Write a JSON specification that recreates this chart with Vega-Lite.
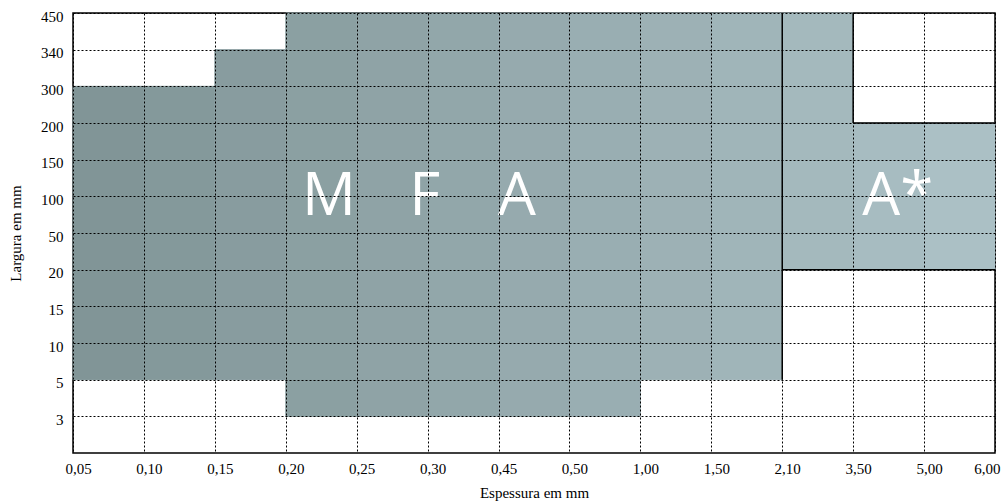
{
  "$schema": "https://vega.github.io/schema/vega-lite/v6.json",
  "width": 922,
  "height": 440,
  "autosize": {"type": "none"},
  "padding": {"left": 73, "top": 13, "right": 7, "bottom": 50},
  "background": "white",
  "config": {
    "view": {"stroke": "black", "strokeWidth": 1.5},
    "axis": {
      "labelFont": "Liberation Serif",
      "labelFontSize": 15,
      "labelColor": "black",
      "titleFont": "Liberation Serif",
      "titleFontSize": 15,
      "titleFontWeight": "normal",
      "titleColor": "black",
      "grid": true,
      "gridColor": "black",
      "gridDash": [2, 2],
      "gridWidth": 1,
      "gridOpacity": 1,
      "ticks": false,
      "domain": false,
      "labelOverlap": false,
      "labelSeparation": 0,
      "labelBound": false
    },
    "axisX": {"labelFlush": false, "labelPadding": 8, "titlePadding": 9, "labelOffset": 5},
    "axisY": {"labelFlush": false, "labelPadding": 10, "labelOffset": 3, "titlePadding": 17}
  },
  "datasets": {
    "cols": [
      {"x0": 0, "x1": 1, "y0": 2, "y1": 10},
      {"x0": 1, "x1": 2, "y0": 2, "y1": 10},
      {"x0": 2, "x1": 3, "y0": 2, "y1": 11},
      {"x0": 3, "x1": 4, "y0": 1, "y1": 12},
      {"x0": 4, "x1": 5, "y0": 1, "y1": 12},
      {"x0": 5, "x1": 6, "y0": 1, "y1": 12},
      {"x0": 6, "x1": 7, "y0": 1, "y1": 12},
      {"x0": 7, "x1": 8, "y0": 1, "y1": 12},
      {"x0": 8, "x1": 9, "y0": 2, "y1": 12},
      {"x0": 9, "x1": 10, "y0": 2, "y1": 12},
      {"x0": 10, "x1": 11, "y0": 5, "y1": 12},
      {"x0": 11, "x1": 12, "y0": 5, "y1": 9},
      {"x0": 12, "x1": 13, "y0": 5, "y1": 9}
    ],
    "borders": [
      {"x0": 10, "x1": 10, "y0": 2, "y1": 12},
      {"x0": 10, "x1": 13, "y0": 5, "y1": 5},
      {"x0": 11, "x1": 13, "y0": 9, "y1": 9},
      {"x0": 11, "x1": 11, "y0": 9, "y1": 12}
    ],
    "labels": [
      {"label": "M", "x": 3.61, "y": 6.5},
      {"label": "F", "x": 4.96, "y": 6.5},
      {"label": "A", "x": 6.26, "y": 6.5},
      {"label": "A*", "x": 11.63, "y": 6.5}
    ]
  },
  "layer": [
    {
      "data": {"name": "cols"},
      "mark": {"type": "rect", "strokeWidth": 1},
      "encoding": {
        "x": {
          "field": "x0",
          "type": "quantitative",
          "scale": {"domain": [0, 13], "nice": false, "zero": false},
          "axis": {
            "title": "Espessura em mm",
            "values": [0, 1, 2, 3, 4, 5, 6, 7, 8, 9, 10, 11, 12, 13],
            "tickCount": 30,
            "labelExpr": "['0,05','0,10','0,15','0,20','0,25','0,30','0,45','0,50','1,00','1,50','2,10','3,50','5,00','6,00'][datum.value]",
            "labelAlign": {"expr": "datum.value == 13 ? 'right' : 'center'"},
            "labelOverlap": false,
            "zindex": 1
          }
        },
        "x2": {"field": "x1"},
        "y": {
          "field": "y0",
          "type": "quantitative",
          "scale": {"domain": [0, 12], "nice": false, "zero": false},
          "axis": {
            "title": "Largura em mm",
            "values": [1, 2, 3, 4, 5, 6, 7, 8, 9, 10, 11, 12],
            "tickCount": 30,
            "labelExpr": "['','3','5','10','15','20','50','100','150','200','300','340','450'][datum.value]",
            "labelOverlap": false,
            "zindex": 1
          }
        },
        "y2": {"field": "y1"},
        "color": {
          "field": "x0",
          "type": "quantitative",
          "scale": {"domain": [0, 12], "range": ["#819597", "#abc0c5"]},
          "legend": null
        },
        "stroke": {
          "field": "x0",
          "type": "quantitative",
          "scale": {"domain": [0, 12], "range": ["#819597", "#abc0c5"]},
          "legend": null
        }
      }
    },
    {
      "data": {"name": "borders"},
      "mark": {"type": "rule", "color": "black", "strokeWidth": 1.5},
      "encoding": {
        "x": {"field": "x0", "type": "quantitative"},
        "x2": {"field": "x1"},
        "y": {"field": "y0", "type": "quantitative"},
        "y2": {"field": "y1"}
      }
    },
    {
      "data": {"name": "labels"},
      "mark": {"type": "text", "font": "Open Sans", "fontSize": 60, "color": "white", "align": "center", "baseline": "alphabetic"},
      "encoding": {
        "x": {"field": "x", "type": "quantitative"},
        "y": {"field": "y", "type": "quantitative"},
        "text": {"field": "label"}
      }
    }
  ]
}
